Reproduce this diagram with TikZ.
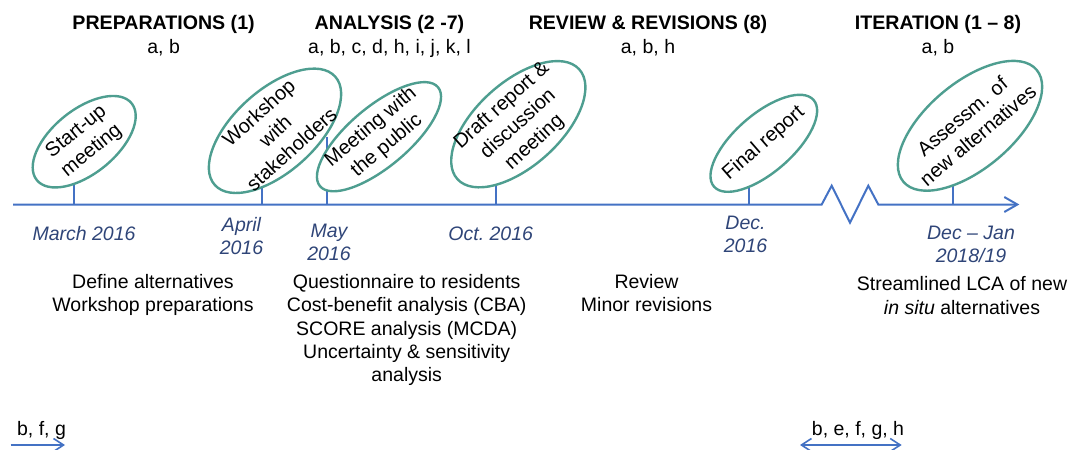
\documentclass[tikz,border=0pt]{standalone}
\usepackage{fontspec}
\setmainfont{Liberation Sans}
\usetikzlibrary{arrows.meta,backgrounds,shapes.geometric}
\definecolor{axisblue}{RGB}{68,114,196}
\definecolor{ellteal}{RGB}{78,158,144}
\definecolor{datecol}{RGB}{47,69,120}
\begin{document}
\begin{tikzpicture}[x=1pt,y=-1pt,
  axisline/.style={draw=axisblue,line width=2pt},
  tickline/.style={draw=axisblue,line width=2pt},
  ell/.style={draw=ellteal,line width=2.4pt,fill=white,ellipse,inner sep=0pt},
  elltext/.style={align=center,font=\fontsize{20}{24.5}\selectfont,inner sep=0pt},
  head/.style={font=\fontsize{19.6}{22}\selectfont\bfseries,anchor=base},
  letters/.style={font=\fontsize{19.5}{22}\selectfont,anchor=base},
  datelbl/.style={align=center,text=datecol,font=\fontsize{19.5}{22.5}\selectfont\itshape,inner sep=0pt},
  desc/.style={align=center,font=\fontsize{19.5}{23.3}\selectfont,inner sep=0pt,anchor=north},
  barb/.style={-{Straight Barb[length=13pt,width=15pt,line width=2pt]}},
]
\useasboundingbox (0,0) rectangle (1069,450);

% headings
\node[head] (h1) at (163.6,29.5) {PREPARATIONS (1)};
\node[letters] (l1) at (163.6,53.5) {a, b};
\node[head] (h2) at (389.5,29.5) {ANALYSIS (2 -7)};
\node[letters] (l2) at (389.5,53.5) {a, b, c, d, h, i, j, k, l};
\node[head] (h3) at (648,29.5) {REVIEW \& REVISIONS (8)};
\node[letters] (l3) at (648,53.5) {a, b, h};
\node[head] (h4) at (938,29.5) {ITERATION (1 – 8)};
\node[letters] (l4) at (938,53.5) {a, b};

% axis
\coordinate (a0) at (13,204.5);
\coordinate (z1) at (821.7,204.5);
\coordinate (z2) at (831.7,185.7);
\coordinate (z3) at (850,222.7);
\coordinate (z4) at (868.3,185.7);
\coordinate (z5) at (878.3,204.5);
\coordinate (aend) at (1019.3,204.5);
\draw[axisline,barb,line join=miter] (a0) -- (z1) -- (z2) -- (z3) -- (z4) -- (z5) -- (aend);

% tick feet on axis
\coordinate (t1) at (73.5,204.5);
\coordinate (t2) at (262,204.5);
\coordinate (t3) at (326.6,204.5);
\coordinate (t4) at (495.7,204.5);
\coordinate (t5) at (748.5,204.5);
\coordinate (t6) at (952.7,204.5);

% ellipses
\node[ell,rotate=39,minimum width=122pt,minimum height=64pt] (e1) at (84.2,141.7) {};
\node[elltext,rotate=39] (x1) at (e1.center) {Start-up\\meeting};
\node[ell,rotate=42,minimum width=162pt,minimum height=82pt] (e2) at (275,130.8) {};
\node[elltext,rotate=42] (x2) at (e2.center) {Workshop\\with\\stakeholders};
\node[ell,rotate=40,minimum width=154pt,minimum height=60pt] (e3) at (379,136.7) {};
\node[elltext,rotate=40] (x3) at (e3.center) {Meeting with\\the public};
\node[ell,rotate=42,minimum width=164pt,minimum height=84pt] (e4) at (518.3,124.2) {};
\node[elltext,rotate=42] (x4) at (e4.center) {Draft report \&\\discussion\\meeting};
\node[ell,rotate=41,minimum width=132pt,minimum height=58pt] (e5) at (763.8,143.3) {};
\node[elltext,rotate=41] (x5) at (e5.center) {Final report};
\node[ell,rotate=40,minimum width=174pt,minimum height=86pt] (e6) at (970,125.8) {};
\node[elltext,rotate=40] (x6) at (e6.center) {Assessm. of\\new alternatives};

\begin{pgfonlayer}{background}
\draw[tickline] (t1) -- (t1 |- e1.center);
\draw[tickline] (t2) -- (t2 |- e2.center);
\draw[tickline] (t3) -- (t3 |- e3.center);
\draw[tickline] (t4) -- (t4 |- e4.center);
\draw[tickline] (t5) -- (t5 |- e5.center);
\draw[tickline] (t6) -- (t6 |- e6.center);
\end{pgfonlayer}

% dates
\node[datelbl,anchor=base] (d1) at (84,240) {March 2016};
\node[datelbl,anchor=north] (d2) at (241.5,217.5) {April\\2016};
\node[datelbl,anchor=north] (d3) at (329,224) {May\\2016};
\node[datelbl,anchor=base] (d4) at (490.7,240) {Oct.\ 2016};
\node[datelbl,anchor=north] (d5) at (745.5,216) {Dec.\\2016};
\node[datelbl,anchor=north] (d6) at (971,226) {Dec – Jan\\2018/19};

% descriptions
\node[desc] (s1) at (153,274.1) {Define alternatives\\Workshop preparations};
\node[desc] (s2) at (406.7,274.1) {Questionnaire to residents\\Cost-benefit analysis (CBA)\\SCORE analysis (MCDA)\\Uncertainty \& sensitivity\\analysis};
\node[desc] (s3) at (646.5,274.1) {Review\\Minor revisions};
\node[desc] (s4) at (962,276.5) {Streamlined LCA of new\\\textit{in situ} alternatives};

% bottom arrows
\node[letters] (b1) at (41.5,435) {b, f, g};
\coordinate (b1s) at (10.7,445);
\coordinate (b1e) at (65,445);
\draw[axisline,-{Straight Barb[length=10pt,width=13pt,line width=1.6pt]}] (b1s) -- (b1e);
\node[letters] (b2) at (858,435) {b, e, f, g, h};
\coordinate (b2s) at (800,445);
\coordinate (b2e) at (901.7,445);
\draw[axisline,{Straight Barb[length=10pt,width=13pt,line width=1.6pt]}-{Straight Barb[length=10pt,width=13pt,line width=1.6pt]}] (b2s) -- (b2e);
\end{tikzpicture}
\end{document}
